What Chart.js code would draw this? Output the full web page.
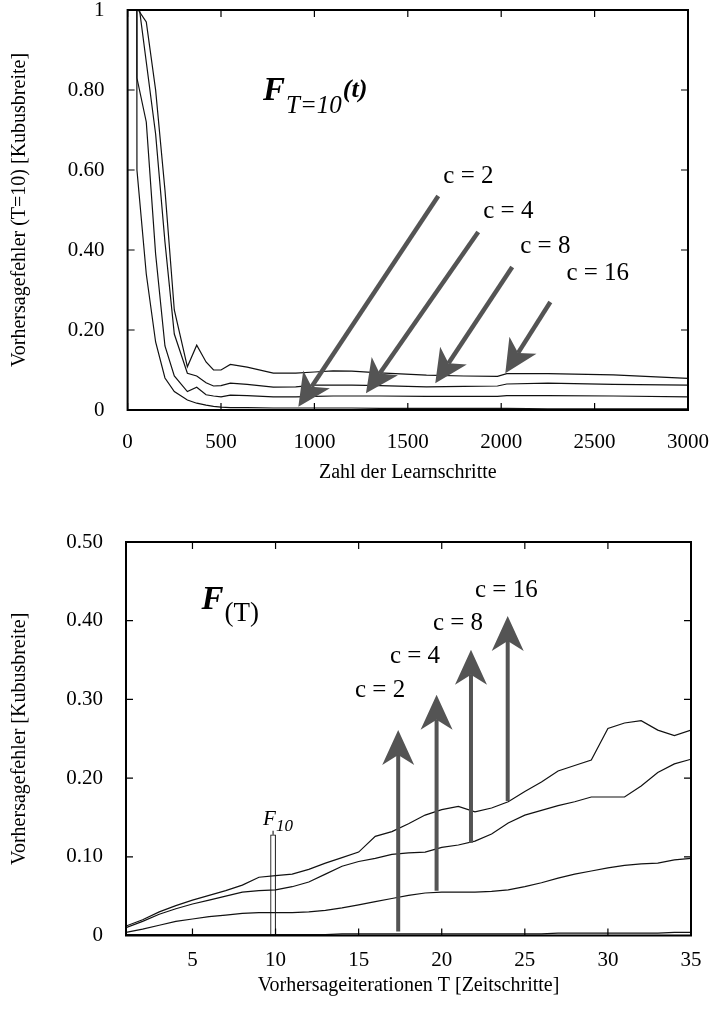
<!DOCTYPE html>
<html><head><meta charset="utf-8">
<script src="https://cdn.jsdelivr.net/npm/chart.js@4.4.0/dist/chart.umd.min.js"></script>
<style>
html,body{margin:0;padding:0;background:#fff;width:711px;height:1010px;overflow:hidden}
#c1{position:absolute;left:0;top:0}
#c2{position:absolute;left:0;top:500px}
</style></head><body>
<canvas id="c1" width="711" height="500"></canvas>
<canvas id="c2" width="711" height="510"></canvas>
<script>
// ===== Top chart: F_{T=10}(t) =====
const learnSteps = [0,50,100,150,200,250,320,370,420,460,500,550,640,780,900,1000,1100,1200,1350,1600,1800,1980,2030,2250,2600,3000];
const topC2  = [30,0.60,0.34,0.17,0.08,0.046,0.025,0.017,0.012,0.009,0.007,0.006,0.006,0.005,0.005,0.005,0.005,0.005,0.004,0.004,0.004,0.004,0.004,0.003,0.003,0.003];
const topC4  = [30,0.83,0.72,0.39,0.16,0.085,0.046,0.057,0.038,0.035,0.033,0.037,0.036,0.033,0.033,0.034,0.035,0.035,0.035,0.034,0.034,0.034,0.036,0.036,0.035,0.033];
const topC8  = [30,1.05,0.87,0.69,0.42,0.19,0.092,0.085,0.068,0.060,0.061,0.067,0.064,0.057,0.058,0.062,0.062,0.062,0.061,0.058,0.059,0.060,0.065,0.067,0.064,0.062];
const topC16 = [30,1.005,0.97,0.80,0.55,0.25,0.108,0.162,0.120,0.100,0.100,0.114,0.107,0.092,0.092,0.095,0.098,0.097,0.093,0.087,0.085,0.084,0.091,0.091,0.088,0.079];
const topXTicks = [0,500,1000,1500,2000,2500,3000];
const topYTicks = [0,0.2,0.4,0.6,0.8,1];
const topYLabels = ['0','0.20','0.40','0.60','0.80','1'];
const topArrowLabels = ['c = 2','c = 4','c = 8','c = 16'];
const topArrowTailT = [1663,1877,2059,2263];
const topArrowTailV = [0.535,0.445,0.3575,0.27];
const topArrowTipT  = [914,1276,1647,2022];
const topArrowTipV  = [0.008,0.042,0.067,0.092];
const topLabelT = [1690,1904,2102,2349];
const topLabelV = [0.5675,0.48,0.3925,0.325];
const topTitlePos = [725,0.775];

// ===== Bottom chart: F(T) =====
const iterT = [1,2,3,4,5,6,7,8,9,10,11,12,13,14,15,16,17,18,19,20,21,22,23,24,25,26,27,28,29,30,31,32,33,34,35];
const botC2  = [0.001,0.001,0.001,0.001,0.001,0.001,0.001,0.001,0.001,0.001,0.001,0.001,0.001,0.002,0.002,0.002,0.002,0.002,0.002,0.002,0.002,0.002,0.002,0.002,0.002,0.002,0.003,0.003,0.003,0.003,0.003,0.003,0.003,0.004,0.004];
const botC4  = [0.004,0.008,0.013,0.018,0.021,0.024,0.026,0.028,0.029,0.029,0.029,0.030,0.032,0.035,0.039,0.043,0.047,0.051,0.054,0.055,0.055,0.055,0.056,0.058,0.062,0.067,0.073,0.078,0.082,0.086,0.089,0.091,0.092,0.096,0.098];
const botC8  = [0.010,0.018,0.027,0.034,0.040,0.045,0.050,0.055,0.057,0.058,0.062,0.068,0.078,0.088,0.094,0.098,0.103,0.105,0.106,0.112,0.115,0.120,0.129,0.143,0.153,0.159,0.165,0.170,0.176,0.176,0.176,0.190,0.207,0.218,0.224];
const botC16 = [0.012,0.020,0.030,0.038,0.045,0.051,0.057,0.064,0.074,0.076,0.078,0.084,0.092,0.099,0.106,0.126,0.132,0.142,0.153,0.160,0.164,0.157,0.162,0.170,0.183,0.195,0.209,0.216,0.223,0.263,0.270,0.273,0.261,0.254,0.261];
const botXTicks = [5,10,15,20,25,30,35];
const botYTicks = [0,0.1,0.2,0.3,0.4,0.5];
const botYLabels = ['0','0.10','0.20','0.30','0.40','0.50'];
const f10T = [9.85];
const f10V = [0.128];
const botArrowLabels = ['c = 2','c = 4','c = 8','c = 16'];
const botArrowT = [17.38,19.69,21.76,23.97];
const botArrowFromV = [0.005,0.057,0.118,0.171];
const botArrowToV = [0.261,0.306,0.363,0.406];
const botLabelT = [14.78,16.88,19.47,22.0];
const botLabelV = [0.303,0.346,0.388,0.430];
const botTitlePos = [5.55,0.415];

const SERIF = "'Liberation Serif','Times New Roman',serif";
Chart.defaults.font.family = SERIF;
Chart.defaults.color = '#000';

const pts = (xs, ys) => xs.map((x,i)=>({x, y: ys[i]}));
const lineDs = (xs, ys) => ({type:'line', data: pts(xs, ys), borderColor:'#111', borderWidth:1.2,
  pointRadius:0, tension:0, fill:false});

function drawFrame(ctx, a, xs, ys, xt, yt){
  ctx.save();
  ctx.strokeStyle = '#000';
  ctx.lineWidth = 1.2;
  ctx.beginPath();
  const tl = 7;
  xt.forEach(v=>{const p=xs.getPixelForValue(v); ctx.moveTo(p,a.bottom); ctx.lineTo(p,a.bottom-tl); ctx.moveTo(p,a.top); ctx.lineTo(p,a.top+tl);});
  yt.forEach(v=>{const p=ys.getPixelForValue(v); ctx.moveTo(a.left,p); ctx.lineTo(a.left+tl,p); ctx.moveTo(a.right,p); ctx.lineTo(a.right-tl,p);});
  ctx.stroke();
  ctx.lineWidth = 2;
  ctx.strokeRect(a.left, a.top, a.right-a.left, a.bottom-a.top);
  ctx.restore();
}

function drawArrow(ctx, x0, y0, x1, y1, w, headLen, headHalf, notch){
  const dx=x1-x0, dy=y1-y0, L=Math.hypot(dx,dy), ux=dx/L, uy=dy/L, nx=-uy, ny=ux;
  ctx.save();
  ctx.strokeStyle = '#545454'; ctx.fillStyle = '#545454';
  ctx.lineWidth = w; ctx.lineCap = 'butt';
  ctx.beginPath(); ctx.moveTo(x0,y0);
  ctx.lineTo(x1-ux*(headLen-notch), y1-uy*(headLen-notch)); ctx.stroke();
  ctx.beginPath();
  ctx.moveTo(x1,y1);
  ctx.lineTo(x1-ux*headLen+nx*headHalf, y1-uy*headLen+ny*headHalf);
  ctx.lineTo(x1-ux*(headLen-notch), y1-uy*(headLen-notch));
  ctx.lineTo(x1-ux*headLen-nx*headHalf, y1-uy*headLen-ny*headHalf);
  ctx.closePath(); ctx.fill();
  ctx.restore();
}

function drawParts(ctx, x, y, parts){
  ctx.save(); ctx.fillStyle='#000'; ctx.textBaseline='alphabetic'; ctx.textAlign='left';
  let cx = x;
  parts.forEach(p=>{ ctx.font = p.font + ' ' + SERIF; ctx.fillText(p.text, cx + (p.dx||0), y + p.dy); cx += ctx.measureText(p.text).width + (p.dx||0); });
  ctx.restore();
}

const topPlugin = {
  id:'topAnno',
  afterDatasetsDraw(chart){
    const {ctx, chartArea:a, scales:{x, y}} = chart;
    drawFrame(ctx, a, x, y, topXTicks, topYTicks);
    for (let i=0;i<topArrowLabels.length;i++){
      drawArrow(ctx, x.getPixelForValue(topArrowTailT[i]), y.getPixelForValue(topArrowTailV[i]),
                x.getPixelForValue(topArrowTipT[i]), y.getPixelForValue(topArrowTipV[i]), 4.5, 33, 16, 9);
      ctx.save(); ctx.fillStyle='#000'; ctx.font='25px '+SERIF; ctx.textBaseline='alphabetic';
      ctx.fillText(topArrowLabels[i], x.getPixelForValue(topLabelT[i]), y.getPixelForValue(topLabelV[i]));
      ctx.restore();
    }
    drawParts(ctx, x.getPixelForValue(topTitlePos[0]), y.getPixelForValue(topTitlePos[1]), [
      {text:'F', font:'bold italic 33px', dy:0},
      {text:'T=10', font:'italic 25px', dy:13, dx:1},
      {text:'(t)', font:'bold italic 26px', dy:-3, dx:1}
    ]);
  }
};

const botPlugin = {
  id:'botAnno',
  afterDatasetsDraw(chart){
    const {ctx, chartArea:a, scales:{x, y}} = chart;
    drawFrame(ctx, a, x, y, botXTicks, botYTicks);
    ctx.save(); ctx.strokeStyle='#000'; ctx.lineWidth=1;
    const fx = x.getPixelForValue(f10T[0]), fy = y.getPixelForValue(f10V[0]);
    ctx.beginPath(); ctx.moveTo(fx, fy); ctx.lineTo(fx, fy-4); ctx.stroke(); ctx.restore();
    drawParts(ctx, fx-10, fy-10, [
      {text:'F', font:'italic 21px', dy:0},
      {text:'10', font:'italic 17px', dy:6}
    ]);
    for (let i=0;i<botArrowLabels.length;i++){
      const px = x.getPixelForValue(botArrowT[i]);
      drawArrow(ctx, px, y.getPixelForValue(botArrowFromV[i]), px, y.getPixelForValue(botArrowToV[i]), 4, 35, 16, 10);
      ctx.save(); ctx.fillStyle='#000'; ctx.font='25px '+SERIF; ctx.textBaseline='alphabetic';
      ctx.fillText(botArrowLabels[i], x.getPixelForValue(botLabelT[i]), y.getPixelForValue(botLabelV[i]));
      ctx.restore();
    }
    drawParts(ctx, x.getPixelForValue(botTitlePos[0]), y.getPixelForValue(botTitlePos[1]), [
      {text:'F', font:'bold italic 33px', dy:0},
      {text:'(T)', font:'27px', dy:12, dx:1}
    ]);
  }
};

function axisCommon(){
  return { grid:{display:false, drawTicks:false}, border:{display:false} };
}
function zeroPad(s){ s.paddingTop = 0; s.paddingBottom = 0; s.paddingLeft = 0; s.paddingRight = 0; }

new Chart(document.getElementById('c1'), {
  type:'line',
  data:{ datasets:[ lineDs(learnSteps, topC2), lineDs(learnSteps, topC4), lineDs(learnSteps, topC8), lineDs(learnSteps, topC16) ] },
  options:{
    responsive:false, animation:false, devicePixelRatio:1,
    layout:{padding:{top:10, right:23, left:0, bottom:0}},
    plugins:{legend:{display:false}, tooltip:{enabled:false}},
    scales:{
      x:{ type:'linear', offset:false, min:0, max:3000, ...axisCommon(),
          afterBuildTicks:s=>{ s.ticks = topXTicks.map(v=>({value:v})); },
          afterFit:s=>{ s.height = 90; zeroPad(s); },
          ticks:{ font:{size:21}, padding:20, maxRotation:0, autoSkip:false, callback:(v)=>String(v) },
          title:{ display:true, text:'Zahl der Learnschritte', font:{size:20}, padding:{top:0,bottom:15} } },
      y:{ type:'linear', min:0, max:1, ...axisCommon(),
          afterBuildTicks:s=>{ s.ticks = topYTicks.map(v=>({value:v})); },
          afterFit:s=>{ s.width = 127.6; zeroPad(s); },
          ticks:{ font:{size:21}, padding:23, autoSkip:false, callback:(v,i)=>topYLabels[i] },
          title:{ display:true, text:'Vorhersagefehler (T=10) [Kubusbreite]', font:{size:20}, padding:{top:8,bottom:0} } }
    }
  },
  plugins:[topPlugin]
});

new Chart(document.getElementById('c2'), {
  type:'line',
  data:{ datasets:[
    lineDs(iterT, botC2), lineDs(iterT, botC4), lineDs(iterT, botC8), lineDs(iterT, botC16),
    { type:'bar', data: pts(f10T, f10V), backgroundColor:'#fff', borderColor:'#000', borderWidth:1, barThickness:5, grouped:false }
  ] },
  options:{
    responsive:false, animation:false, devicePixelRatio:1,
    layout:{padding:{top:42, right:20, left:0, bottom:0}},
    plugins:{legend:{display:false}, tooltip:{enabled:false}},
    scales:{
      x:{ type:'linear', offset:false, min:1, max:35, ...axisCommon(),
          afterBuildTicks:s=>{ s.ticks = botXTicks.map(v=>({value:v})); },
          afterFit:s=>{ s.height = 74.5; zeroPad(s); },
          ticks:{ font:{size:21}, padding:12, maxRotation:0, autoSkip:false, callback:(v)=>String(v) },
          title:{ display:true, text:'Vorhersageiterationen T [Zeitschritte]', font:{size:20}, padding:{top:0,bottom:12} } },
      y:{ type:'linear', min:0, max:0.5, ...axisCommon(),
          afterBuildTicks:s=>{ s.ticks = botYTicks.map(v=>({value:v})); },
          afterFit:s=>{ s.width = 126; zeroPad(s); },
          ticks:{ font:{size:21}, padding:23, autoSkip:false, callback:(v,i)=>botYLabels[i] },
          title:{ display:true, text:'Vorhersagefehler [Kubusbreite]', font:{size:20}, padding:{top:8,bottom:0} } }
    }
  },
  plugins:[botPlugin]
});
</script>
</body></html>
